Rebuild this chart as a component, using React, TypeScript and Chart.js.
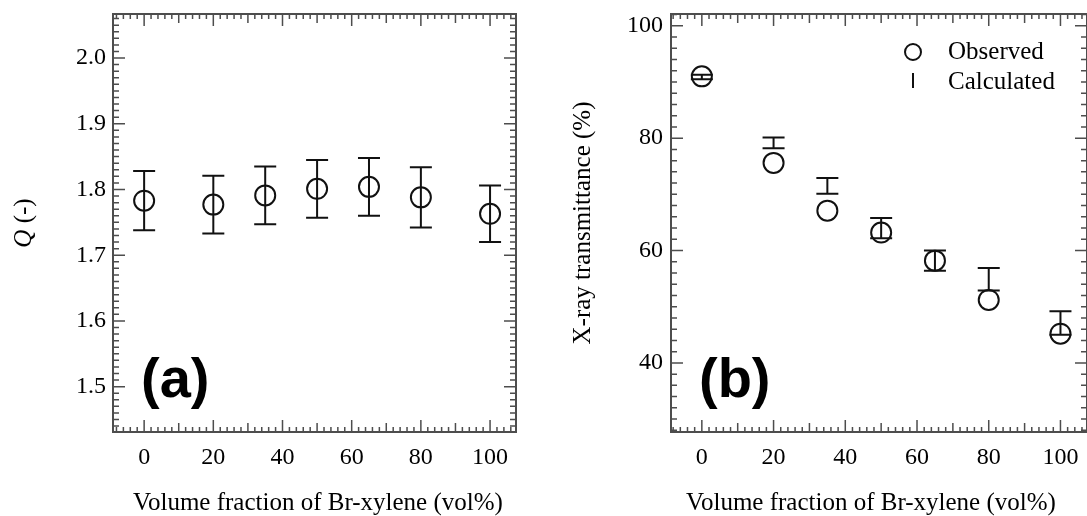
import React, { useEffect, useRef } from 'react';
import { Chart, registerables } from 'chart.js';

Chart.register(...registerables);

// Br-xylene volume fractions (vol%)
const fractions = [0, 20, 35, 50, 65, 80, 100];

// Panel (a): Q values with their uncertainties
const qValues = [1.783, 1.777, 1.791, 1.801, 1.804, 1.788, 1.763];
const qErrors = [0.045, 0.044, 0.044, 0.044, 0.044, 0.046, 0.043];

// Panel (b): observed X-ray transmittance and calculated range (%)
const observed = [91.0, 75.6, 67.1, 63.2, 58.2, 51.2, 45.2];
const calcHigh = [91.3, 80.1, 72.9, 65.8, 60.0, 56.9, 49.2];
const calcLow = [90.5, 78.2, 70.1, 62.2, 56.4, 52.9, 45.0];

// Tick labels
const xTickValues = [0, 20, 40, 60, 80, 100];
const qTickValues = [1.5, 1.6, 1.7, 1.8, 1.9, 2.0];
const tTickValues = [40, 60, 80, 100];

const X_TITLE = 'Volume fraction of Br-xylene (vol%)';

const SERIF = "'Liberation Serif', 'Times New Roman', serif";
const SANS = "'Liberation Sans', Arial, Helvetica, sans-serif";
const FRAME = '#4d4d4d';
const INK = '#111111';

type TickCfg = { xMinor: number; xMid: number; xMajor: number; yMinor: number; yMajor: number };

// Box frame with inward-pointing ticks on all four sides
function frameTicks(cfg: TickCfg) {
  return {
    id: 'frameTicks',
    afterDraw(chart: any) {
      const { ctx, chartArea: a, scales } = chart;
      const xs = scales.x;
      const ys = scales.y;
      ctx.save();
      ctx.strokeStyle = FRAME;
      ctx.lineWidth = 1.5;
      ctx.beginPath();
      const xMajK = Math.round(cfg.xMajor / cfg.xMinor);
      const xMidK = Math.round(cfg.xMid / cfg.xMinor);
      for (let k = Math.ceil(xs.min / cfg.xMinor); k <= Math.floor(xs.max / cfg.xMinor); k++) {
        const len = k % xMajK === 0 ? 12 : k % xMidK === 0 ? 9 : 5;
        const px = xs.getPixelForValue(k * cfg.xMinor);
        ctx.moveTo(px, a.bottom);
        ctx.lineTo(px, a.bottom - len);
        ctx.moveTo(px, a.top);
        ctx.lineTo(px, a.top + len);
      }
      const yMajK = Math.round(cfg.yMajor / cfg.yMinor);
      for (let k = Math.ceil(ys.min / cfg.yMinor - 1e-6); k <= Math.floor(ys.max / cfg.yMinor + 1e-6); k++) {
        const len = k % yMajK === 0 ? 12 : 6;
        const py = ys.getPixelForValue(k * cfg.yMinor);
        ctx.moveTo(a.left, py);
        ctx.lineTo(a.left + len, py);
        ctx.moveTo(a.right, py);
        ctx.lineTo(a.right - len, py);
      }
      ctx.stroke();
      ctx.lineWidth = 2;
      ctx.strokeRect(a.left, a.top, a.right - a.left, a.bottom - a.top);
      ctx.restore();
    },
  };
}

// Vertical range bars with end caps
function rangeBars(lows: number[], highs: number[]) {
  return {
    id: 'rangeBars',
    afterDatasetsDraw(chart: any) {
      const { ctx, scales } = chart;
      ctx.save();
      ctx.strokeStyle = INK;
      ctx.lineWidth = 2;
      ctx.beginPath();
      fractions.forEach((f, i) => {
        const x = scales.x.getPixelForValue(f);
        const y1 = scales.y.getPixelForValue(highs[i]);
        const y2 = scales.y.getPixelForValue(lows[i]);
        ctx.moveTo(x, y1);
        ctx.lineTo(x, y2);
        ctx.moveTo(x - 11, y1);
        ctx.lineTo(x + 11, y1);
        ctx.moveTo(x - 11, y2);
        ctx.lineTo(x + 11, y2);
      });
      ctx.stroke();
      ctx.restore();
    },
  };
}

// Bold panel letter inside the plot area
function panelLetter(text: string) {
  return {
    id: 'panelLetter',
    afterDraw(chart: any) {
      const { ctx, chartArea: a } = chart;
      ctx.save();
      ctx.fillStyle = '#000';
      ctx.font = `bold 56px ${SANS}`;
      ctx.textAlign = 'left';
      ctx.textBaseline = 'alphabetic';
      ctx.fillText(text, a.left + 28, a.bottom - 35);
      ctx.restore();
    },
  };
}

// X-axis title, centred at a chosen position below the tick labels
function xTitle(centerX: number) {
  return {
    id: 'xTitle',
    afterDraw(chart: any) {
      const { ctx } = chart;
      ctx.save();
      ctx.fillStyle = '#000';
      ctx.font = `25px ${SERIF}`;
      ctx.textAlign = 'center';
      ctx.textBaseline = 'alphabetic';
      ctx.fillText(X_TITLE, centerX, 510);
      ctx.restore();
    },
  };
}

// Y title "Q (-)" with an italic Q
const qTitle = {
  id: 'qTitle',
  afterDraw(chart: any) {
    const { ctx, chartArea: a } = chart;
    ctx.save();
    ctx.translate(24, (a.top + a.bottom) / 2);
    ctx.rotate(-Math.PI / 2);
    ctx.fillStyle = '#000';
    ctx.textBaseline = 'middle';
    ctx.textAlign = 'left';
    const italic = `italic 25px ${SERIF}`;
    const normal = `25px ${SERIF}`;
    ctx.font = italic;
    const w1 = ctx.measureText('Q').width;
    ctx.font = normal;
    const w2 = ctx.measureText(' (-)').width;
    const x0 = -(w1 + w2) / 2;
    ctx.font = italic;
    ctx.fillText('Q', x0, 0);
    ctx.font = normal;
    ctx.fillText(' (-)', x0 + w1, 0);
    ctx.restore();
  },
};

// Legend for panel (b), drawn inside the plot area
const legendB = {
  id: 'legendB',
  afterDraw(chart: any) {
    const { ctx, chartArea: a } = chart;
    const ds = chart.data.datasets;
    const cx = a.right - 174;
    ctx.save();
    ctx.strokeStyle = INK;
    ctx.lineWidth = 2;
    ctx.beginPath();
    ctx.arc(cx, a.top + 38, 8, 0, Math.PI * 2);
    ctx.stroke();
    ctx.beginPath();
    ctx.moveTo(cx, a.top + 59);
    ctx.lineTo(cx, a.top + 74);
    ctx.stroke();
    ctx.fillStyle = '#000';
    ctx.font = `25px ${SERIF}`;
    ctx.textAlign = 'left';
    ctx.textBaseline = 'alphabetic';
    ctx.fillText(ds[0].label, a.right - 139, a.top + 45);
    ctx.fillText(ds[1].label, a.right - 139, a.top + 75);
    ctx.restore();
  },
};

const tickFont = { family: SERIF, size: 24 };
const titleFont = { family: SERIF, size: 25 };

function xScale(min: number, max: number) {
  return {
    type: 'linear' as const,
    min,
    max,
    afterBuildTicks: (s: any) => {
      s.ticks = xTickValues.map((v) => ({ value: v }));
    },
    afterFit: (s: any) => {
      s.height = 84;
      s.paddingLeft = 0;
      s.paddingRight = 0;
    },
    grid: { display: false, drawTicks: false },
    border: { display: false },
    ticks: { padding: 11, font: tickFont, color: '#000', maxRotation: 0, autoSkip: false, callback: (v: any) => String(v) },
    title: { display: false, text: X_TITLE },
  };
}

function yScale(min: number, max: number, ticks: number[], width: number, pad: number, digits: number) {
  return {
    type: 'linear' as const,
    min,
    max,
    afterBuildTicks: (s: any) => {
      s.ticks = ticks.map((v) => ({ value: v }));
    },
    afterFit: (s: any) => {
      s.width = width;
      s.paddingTop = 0;
      s.paddingBottom = 0;
    },
    grid: { display: false, drawTicks: false },
    border: { display: false },
    ticks: { padding: pad, font: tickFont, color: '#000', callback: (v: any) => Number(v).toFixed(digits) },
  };
}

function leftConfig(): any {
  return {
    type: 'scatter',
    data: {
      datasets: [
        {
          label: 'Q',
          data: fractions.map((x, i) => ({ x, y: qValues[i] })),
          pointStyle: 'circle',
          pointRadius: 10,
          pointBorderWidth: 2,
          borderColor: INK,
          backgroundColor: 'rgba(0,0,0,0)',
          showLine: false,
        },
      ],
    },
    options: {
      responsive: false,
      animation: false,
      devicePixelRatio: 1,
      layout: { autoPadding: false, padding: { top: 14, right: 24, left: 0, bottom: 0 } },
      plugins: { legend: { display: false }, tooltip: { enabled: false } },
      scales: {
        x: xScale(-9, 107.5),
        y: yScale(1.431, 2.067, qTickValues, 113, 7, 1),
      },
    },
    plugins: [
      rangeBars(
        qValues.map((q, i) => q - qErrors[i]),
        qValues.map((q, i) => q + qErrors[i])
      ),
      frameTicks({ xMinor: 2, xMid: 10, xMajor: 20, yMinor: 0.01, yMajor: 0.1 }),
      panelLetter('(a)'),
      xTitle(318),
      qTitle,
    ],
  };
}

function rightConfig(): any {
  const y = {
    ...yScale(27.7, 102.1, tTickValues, 131, 8, 0),
    title: { display: true, text: 'X-ray transmittance (%)', font: titleFont, color: '#000', padding: { top: 28, bottom: 0 } },
  };
  return {
    type: 'scatter',
    data: {
      datasets: [
        {
          label: 'Observed',
          data: fractions.map((x, i) => ({ x, y: observed[i] })),
          pointStyle: 'circle',
          pointRadius: 10,
          pointBorderWidth: 2,
          borderColor: INK,
          backgroundColor: 'rgba(0,0,0,0)',
          showLine: false,
        },
        {
          label: 'Calculated',
          data: fractions.map((x, i) => ({ x, y: (calcLow[i] + calcHigh[i]) / 2 })),
          pointRadius: 0,
          borderColor: INK,
          showLine: false,
        },
      ],
    },
    options: {
      responsive: false,
      animation: false,
      devicePixelRatio: 1,
      layout: { autoPadding: false, padding: { top: 14, right: 0, left: 0, bottom: 0 } },
      plugins: { legend: { display: false }, tooltip: { enabled: false } },
      scales: {
        x: xScale(-8.6, 107.4),
        y,
      },
    },
    plugins: [
      rangeBars(calcLow, calcHigh),
      frameTicks({ xMinor: 2, xMid: 10, xMajor: 20, yMinor: 2, yMajor: 20 }),
      panelLetter('(b)'),
      xTitle(331),
      legendB,
    ],
  };
}

export default function App() {
  const leftRef = useRef<HTMLCanvasElement>(null);
  const rightRef = useRef<HTMLCanvasElement>(null);

  useEffect(() => {
    const left = new Chart(leftRef.current as HTMLCanvasElement, leftConfig());
    const right = new Chart(rightRef.current as HTMLCanvasElement, rightConfig());
    return () => {
      left.destroy();
      right.destroy();
    };
  }, []);

  return (
    <div style={{ position: 'absolute', left: 0, top: 0, width: 1087, height: 516, background: '#fff', overflow: 'hidden' }}>
      <canvas ref={leftRef} width={540} height={516} style={{ position: 'absolute', left: 0, top: 0, width: 540, height: 516 }} />
      <canvas ref={rightRef} width={547} height={516} style={{ position: 'absolute', left: 540, top: 0, width: 547, height: 516 }} />
    </div>
  );
}
